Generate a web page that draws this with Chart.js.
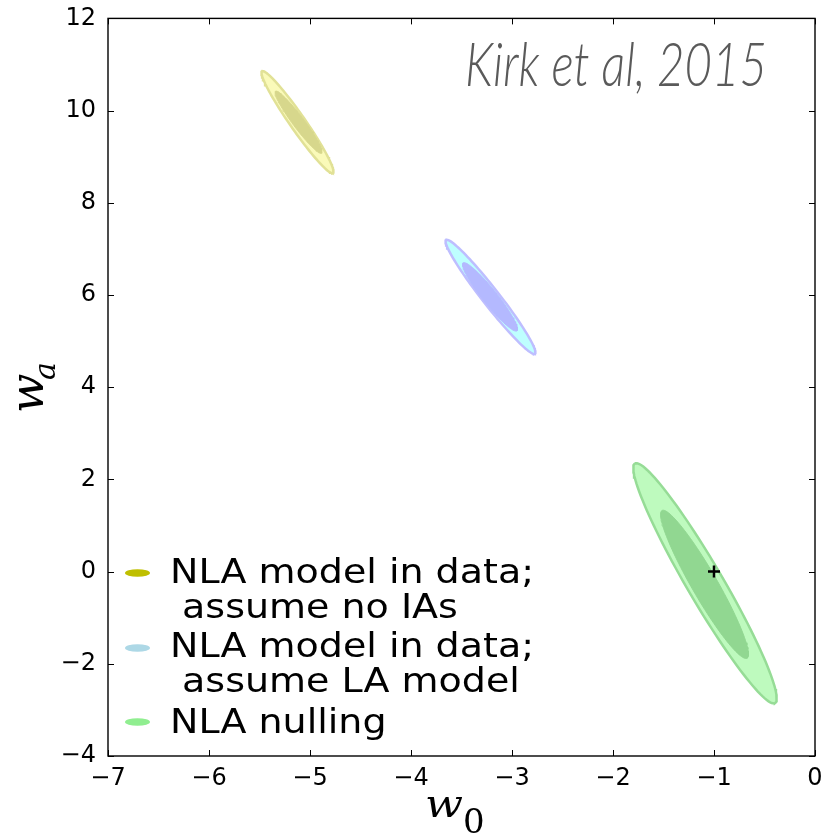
<!DOCTYPE html>
<html>
<head>
<meta charset="utf-8">
<script src="https://cdn.jsdelivr.net/npm/chart.js@4.4.1/dist/chart.umd.min.js"></script>
<style>
  html, body { margin: 0; padding: 0; background: #fff; }
  #wrap { width: 826px; height: 839px; }
</style>
</head>
<body>
<div id="wrap"><canvas id="contours"></canvas></div>
<script>
// w0 - wa constraints for three intrinsic alignment treatments
const modelLabels = [
  ["NLA model in data;", " assume no IAs"],
  ["NLA model in data;", " assume LA model"],
  ["NLA nulling"],
];
// contour centres, semi-major and semi-minor vectors in (w0, wa)
const outerCentre = [[-5.124, 9.749], [-3.213, 5.96], [-1.089, -0.254]];
const outerMajor = [[-0.351, 1.104], [-0.44, 1.234], [-0.693, 2.598]];
const outerMinor = [[0.062, 0.094], [0.066, 0.112], [0.154, 0.196]];
const innerCentre = [[-5.114, 9.749], [-3.218, 5.96], [-1.094, -0.276]];
const innerMajor = [[-0.228, 0.671], [-0.267, 0.736], [-0.421, 1.602]];
const innerMinor = [[0.045, 0.074], [0.056, 0.097], [0.11, 0.138]];
const fiducial = [{ x: -1, y: 0 }];
const xTicks = [-7, -6, -5, -4, -3, -2, -1, 0];
const yTicks = [-4, -2, 0, 2, 4, 6, 8, 10, 12];

const outerFill = ["rgb(250,250,185)", "rgb(190,255,255)", "rgb(190,250,190)"];
const outerEdge = ["rgb(225,225,150)", "rgb(190,190,255)", "rgb(150,220,150)"];
const innerFill = ["rgb(215,215,140)", "rgb(180,185,255)", "rgb(145,215,145)"];
const legendColour = ["#bfbf00", "#add8e6", "#90ee90"];

const ellipse = (c, a, b) => {
  const pts = [];
  for (let i = 0; i <= 120; i++) {
    const t = (i / 120) * 2 * Math.PI;
    pts.push({
      x: c[0] + a[0] * Math.cos(t) + b[0] * Math.sin(t),
      y: c[1] + a[1] * Math.cos(t) + b[1] * Math.sin(t),
    });
  }
  return pts;
};

const datasets = [];
modelLabels.forEach((label, i) => {
  datasets.push({
    label: label.join(""),
    data: ellipse(outerCentre[i], outerMajor[i], outerMinor[i]),
    showLine: true,
    fillColour: outerFill[i],
    borderColor: outerEdge[i],
    borderWidth: 2.5,
    pointRadius: 0,
    order: 3,
  });
  datasets.push({
    data: ellipse(innerCentre[i], innerMajor[i], innerMinor[i]),
    showLine: true,
    fillColour: innerFill[i],
    borderColor: innerFill[i],
    borderWidth: 1,
    pointRadius: 0,
    order: 2,
  });
});
datasets.push({
  data: fiducial,
  pointStyle: "cross",
  pointRadius: 6,
  borderWidth: 2.5,
  borderColor: "#000",
  order: 1,
});

const minus = (v) => String(v).replace("-", "\u2212");

// fill each closed contour before its outline is stroked
const contourFill = {
  id: "contourFill",
  beforeDatasetDraw(chart, args) {
    const ds = chart.data.datasets[args.index];
    if (!ds.fillColour) return;
    const ctx = chart.ctx;
    const area = chart.chartArea;
    const pts = args.meta.data;
    ctx.save();
    ctx.beginPath();
    ctx.rect(area.left, area.top, area.right - area.left, area.bottom - area.top);
    ctx.clip();
    ctx.beginPath();
    pts.forEach((p, k) => (k ? ctx.lineTo(p.x, p.y) : ctx.moveTo(p.x, p.y)));
    ctx.closePath();
    ctx.fillStyle = ds.fillColour;
    ctx.fill();
    ctx.restore();
  },
};

// text squeezed or stretched sideways to a given width
const fitText = (ctx, text, x, y, width) => {
  const w = ctx.measureText(text).width;
  ctx.save();
  ctx.translate(x, y);
  ctx.scale(width / w, 1);
  ctx.fillText(text, 0, 0);
  ctx.restore();
};

// box, inward ticks, axis labels, note and legend
const decorations = {
  id: "decorations",
  afterDraw(chart) {
    const ctx = chart.ctx;
    const { left, right, top, bottom } = chart.chartArea;
    const xs = chart.scales.x;
    const ys = chart.scales.y;
    ctx.save();
    ctx.strokeStyle = "#000";
    ctx.lineWidth = 1.4;
    ctx.strokeRect(left, top, right - left, bottom - top);
    ctx.beginPath();
    xTicks.forEach((v) => {
      const px = Math.round(xs.getPixelForValue(v)) + 0.5;
      ctx.moveTo(px, bottom); ctx.lineTo(px, bottom - 6);
      ctx.moveTo(px, top); ctx.lineTo(px, top + 6);
    });
    yTicks.forEach((v) => {
      const py = Math.round(ys.getPixelForValue(v)) + 0.5;
      ctx.moveTo(left, py); ctx.lineTo(left + 6, py);
      ctx.moveTo(right, py); ctx.lineTo(right - 6, py);
    });
    ctx.lineWidth = 1;
    ctx.stroke();

    // axis titles
    ctx.fillStyle = "#000";
    ctx.textBaseline = "alphabetic";
    ctx.textAlign = "left";
    ctx.font = 'italic 40px "DejaVu Serif"';
    fitText(ctx, "w", 425, 817, 38);
    ctx.font = '34px "DejaVu Serif"';
    ctx.fillText("0", 463, 833);

    ctx.save();
    ctx.translate(43, 393);
    ctx.rotate(-Math.PI / 2);
    ctx.font = 'italic 46px "DejaVu Serif"';
    ctx.fillText("w", -20, 0);
    ctx.font = 'italic 30px "DejaVu Serif"';
    ctx.fillText("a", 13, 12);
    ctx.restore();

    // citation note
    ctx.font = 'italic 300 62px Lato';
    ctx.fillStyle = "#5a5a5a";
    fitText(ctx, "Kirk et al, 2015", 465, 86, 302);

    // legend
    const markerY = [573, 648, 722];
    const baselines = [[583, 618], [657, 692], [733]];
    ctx.font = '33px "DejaVu Sans"';
    const sx = 364 / ctx.measureText(modelLabels[0][0]).width;
    modelLabels.forEach((lines, i) => {
      ctx.beginPath();
      ctx.ellipse(137.5, markerY[i], 12.5, 3.8, 0, 0, 2 * Math.PI);
      ctx.fillStyle = legendColour[i];
      ctx.fill();
      ctx.fillStyle = "#000";
      lines.forEach((t, j) => {
        ctx.save();
        ctx.translate(170, baselines[i][j]);
        ctx.scale(sx, 1);
        ctx.fillText(t, 0, 0);
        ctx.restore();
      });
    });
    ctx.restore();
  },
};

const tickFont = { family: "DejaVu Sans", size: 24 };

new Chart(document.getElementById("contours"), {
  type: "scatter",
  data: { datasets },
  options: {
    responsive: true,
    maintainAspectRatio: false,
    animation: false,
    layout: { padding: { top: 17, right: 11, left: 0, bottom: 0 } },
    plugins: { legend: { display: false }, tooltip: { enabled: false } },
    elements: { line: { tension: 0 } },
    scales: {
      x: {
        type: "linear",
        min: -7,
        max: 0,
        afterBuildTicks: (s) => { s.ticks = xTicks.map((v) => ({ value: v })); },
        afterFit: (s) => { s.height = 83; },
        ticks: { font: tickFont, color: "#000", padding: 0, maxRotation: 0, autoSkip: false, callback: minus },
        grid: { display: false },
        border: { display: false },
      },
      y: {
        type: "linear",
        min: -4,
        max: 12,
        afterBuildTicks: (s) => { s.ticks = yTicks.map((v) => ({ value: v })); },
        afterFit: (s) => { s.width = 108; },
        ticks: { font: tickFont, color: "#000", padding: 4, autoSkip: false, callback: minus },
        grid: { display: false },
        border: { display: false },
      },
    },
  },
  plugins: [contourFill, decorations],
});
</script>
</body>
</html>
